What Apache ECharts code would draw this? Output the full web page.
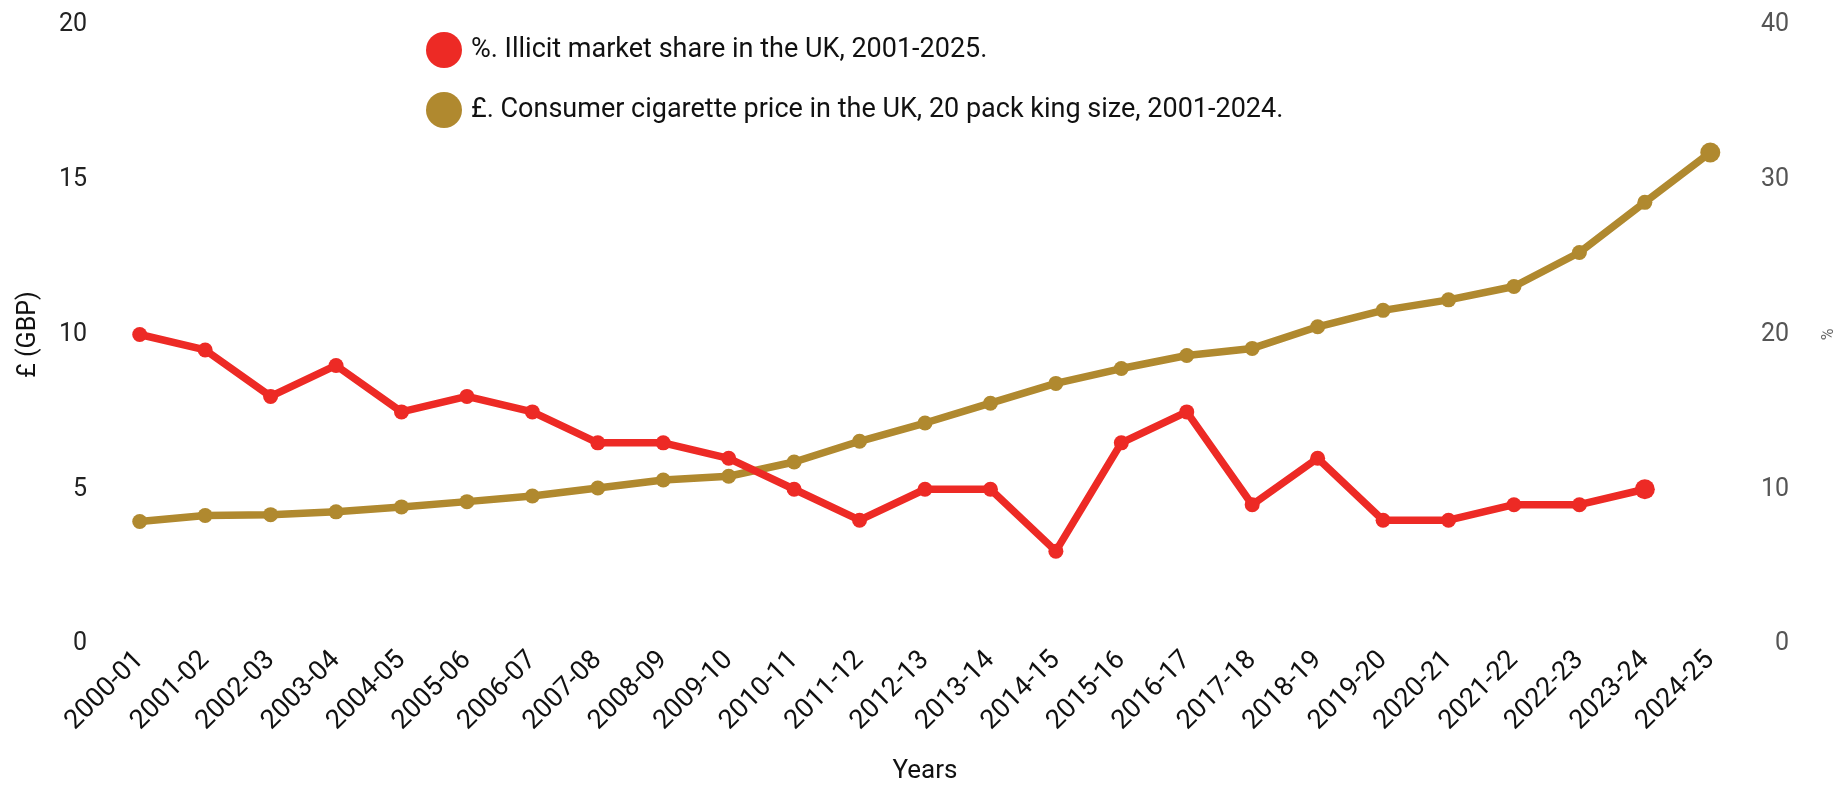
<!DOCTYPE html>
<html>
<head>
<meta charset="utf-8">
<script src="https://cdn.jsdelivr.net/npm/echarts@6/dist/echarts.min.js"></script>
<style>
  html, body { margin: 0; padding: 0; background: #ffffff; }
  #chart { width: 1845px; height: 789px; }
</style>
</head>
<body>
<div id="chart"></div>
<script>
// Financial years on the category axis
const years = [
  '2000-01', '2001-02', '2002-03', '2003-04', '2004-05', '2005-06', '2006-07',
  '2007-08', '2008-09', '2009-10', '2010-11', '2011-12', '2012-13', '2013-14',
  '2014-15', '2015-16', '2016-17', '2017-18', '2018-19', '2019-20', '2020-21',
  '2021-22', '2022-23', '2023-24', '2024-25'
];

// Illicit cigarette market share, % (right axis)
const illicitShare = [
  20, 19, 16, 18, 15, 16, 15, 13, 13, 12, 10, 8, 10, 10, 6, 13, 15, 9, 12, 8, 8, 9, 9, 10
];

// Price of a 20 pack of king size cigarettes, £ (left axis)
const packPrice = [
  3.96, 4.15, 4.18, 4.27, 4.43, 4.60, 4.78, 5.04, 5.30, 5.42, 5.88, 6.55, 7.14,
  7.78, 8.42, 8.90, 9.32, 9.55, 10.25, 10.78, 11.12, 11.55, 12.65, 14.27, 15.88
];

const shareName = '%. Illicit market share in the UK, 2001-2025.';
const priceName = '£. Consumer cigarette price in the UK, 20 pack king size, 2001-2024.';

const RED = '#ED2A25';
const GOLD = '#B0892F';
const FONT = 'Roboto';

const chart = echarts.init(document.getElementById('chart'), null, { renderer: 'canvas' });

// the latest point of each series is drawn a little larger
function endSize(len) {
  return function (value, params) {
    return params.dataIndex === len - 1 ? 20 : 15;
  };
}

chart.setOption({
  animation: false,
  backgroundColor: '#ffffff',
  textStyle: { fontFamily: FONT },
  legend: {
    orient: 'vertical',
    left: 421,
    top: 27,
    itemWidth: 44,
    itemHeight: 36,
    itemGap: 24,
    icon: 'circle',
    data: [shareName, priceName],
    textStyle: { fontFamily: FONT, fontSize: 27, color: '#111111' }
  },
  grid: { left: 107, right: 102, top: 25, bottom: 133.5, containLabel: false },
  xAxis: {
    type: 'category',
    data: years,
    boundaryGap: true,
    axisLine: { show: false },
    axisTick: { show: false },
    splitLine: { show: false },
    axisLabel: {
      rotate: 45,
      interval: 0,
      margin: 12,
      fontFamily: FONT,
      fontSize: 27,
      color: '#111111'
    },
    name: 'Years',
    nameLocation: 'middle',
    nameGap: 114,
    nameTextStyle: { fontFamily: FONT, fontSize: 26, color: '#111111' }
  },
  yAxis: [
    {
      type: 'value',
      position: 'left',
      min: 0,
      max: 20,
      interval: 5,
      axisLine: { show: false },
      axisTick: { show: false },
      splitLine: { show: false },
      axisLabel: { margin: 20, fontFamily: FONT, fontSize: 25, color: '#222222' },
      name: '£ (GBP)',
      nameLocation: 'middle',
      nameGap: 66,
      nameTextStyle: { fontFamily: FONT, fontSize: 25, color: '#111111' }
    },
    {
      type: 'value',
      position: 'right',
      min: 0,
      max: 40,
      interval: 10,
      axisLine: { show: false },
      axisTick: { show: false },
      splitLine: { show: false },
      axisLabel: {
        margin: 46,
        align: 'right',
        fontFamily: FONT,
        fontSize: 25,
        color: '#555555'
      },
      name: '%',
      nameLocation: 'middle',
      nameGap: 78,
      nameTextStyle: { fontFamily: FONT, fontSize: 16, color: '#666666' }
    }
  ],
  series: [
    {
      name: priceName,
      type: 'line',
      yAxisIndex: 0,
      data: packPrice,
      symbol: 'circle',
      symbolSize: endSize(packPrice.length),
      lineStyle: { width: 7.5, color: GOLD },
      itemStyle: { color: GOLD },
      z: 2
    },
    {
      name: shareName,
      type: 'line',
      yAxisIndex: 1,
      data: illicitShare,
      symbol: 'circle',
      symbolSize: endSize(illicitShare.length),
      lineStyle: { width: 7.5, color: RED },
      itemStyle: { color: RED },
      z: 3
    }
  ]
});
</script>
</body>
</html>
